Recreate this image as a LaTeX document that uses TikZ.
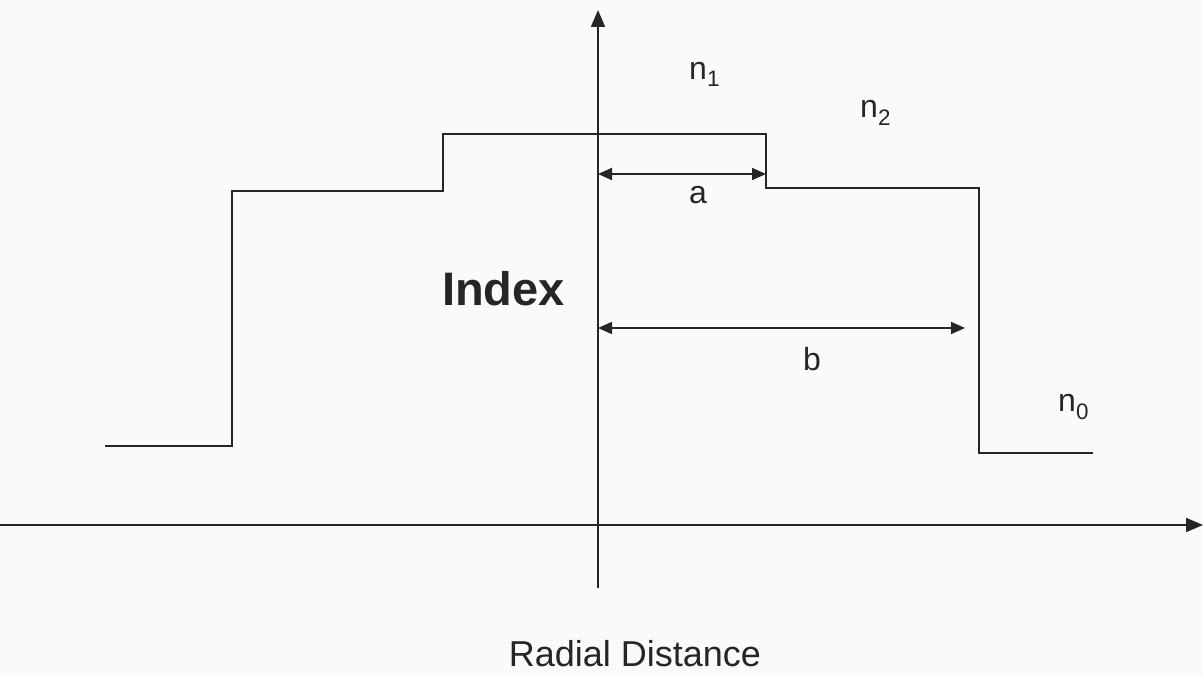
\documentclass[tikz,border=0pt]{standalone}
\usepackage{fontspec}
\setmainfont{Liberation Sans}
\usetikzlibrary{arrows.meta}

\begin{document}
\begin{tikzpicture}[
  x=1pt, y=-1pt,
  >={Triangle[length=14pt,width=12pt]},
  ln/.style={line width=1.8pt, black!85},
  axis/.style={ln, -{Triangle[length=17pt,width=14pt]}},
  dim/.style={ln, <->},
  lbl/.style={font=\fontsize{32}{36}\selectfont, inner sep=0pt, black!85},
  big/.style={font=\fontsize{47}{52}\selectfont\bfseries, inner sep=0pt, black!85}
]
\fill[black!2] (0,0) rectangle (1203,676);
\useasboundingbox (0,0) rectangle (1203,676);

% axes, crossing at the origin
\coordinate (ybot) at (598,588);
\coordinate (ytop) at (598,10);
\coordinate (xlft) at (0,525);
\coordinate (xrgt) at (1203,525);
\draw[axis] (ybot) -- (ytop);
\draw[axis] (xlft) -- (xrgt);

% step index profile: outer, cladding, core
\draw[ln] (105,446) -- (232,446) -- (232,191) -- (443,191) -- (443,134)
  -- (766,134) -- (766,188) -- (979,188) -- (979,453) -- (1093,453);

% radii
\coordinate (a0) at (598,174);
\coordinate (a1) at (766,174);
\coordinate (b0) at (598,328);
\coordinate (b1) at (965,328);
\draw[dim] (a0) -- (a1);
\draw[dim] (b0) -- (b1);

\node[lbl, anchor=base] (alab) at (698,204) {a};
\node[lbl, anchor=base] (blab) at (812,371) {b};

\node[lbl, anchor=base west] (n1) at (689,80) {n\textsubscript{1}};
\node[lbl, anchor=base west] (n2) at (860,118) {n\textsubscript{2}};
\node[lbl, anchor=base west] (n0) at (1058,412) {n\textsubscript{0}};

\node[big, anchor=base west] (index) at (442,306) {Index};
\node[lbl, font=\fontsize{36}{40}\selectfont, anchor=base] (radial) at (635,666) {Radial Distance};

\end{tikzpicture}
\end{document}
